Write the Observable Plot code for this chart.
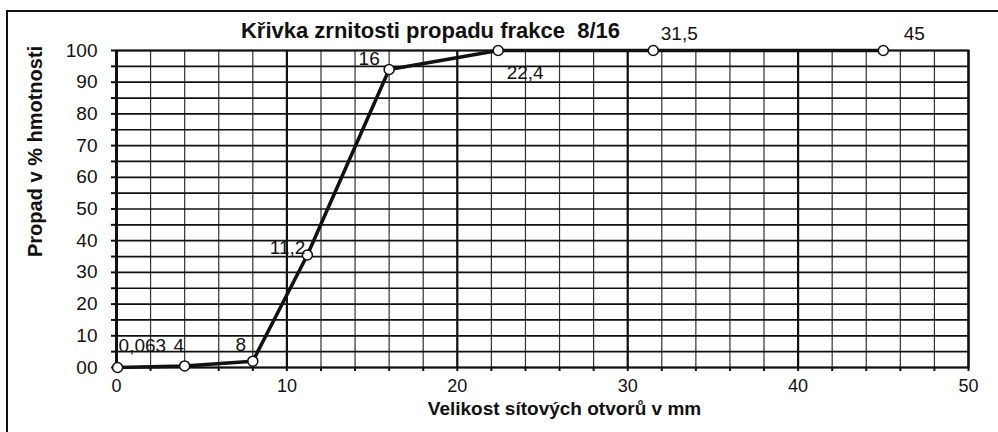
<!DOCTYPE html>
<html>
<head>
<meta charset="utf-8">
<script src="https://cdn.jsdelivr.net/npm/d3@7"></script>
<script src="https://cdn.jsdelivr.net/npm/@observablehq/plot@0.6"></script>
<style>
  html, body { margin: 0; padding: 0; background: #fff; }
  #wrap { position: relative; width: 998px; height: 432px; overflow: hidden; }
  #border { position: absolute; left: 6px; top: 10px; right: -10px; bottom: -10px;
            border-left: 2px solid #111; border-top: 2px solid #111; pointer-events: none; }
</style>
</head>
<body>
<div id="wrap"><div id="border"></div></div>
<script>
// ---- data ----
const sieveSizes = [0.063, 4, 8, 11.2, 16, 22.4, 31.5, 45];
const passing    = [0, 0.5, 2, 35.5, 94, 100, 100, 100];
const pointLabels = ["0,063", "4", "8", "11,2", "16", "22,4", "31,5", "45"];
const xTicks = [0, 10, 20, 30, 40, 50];
const xTickLabels = ["0", "10", "20", "30", "40", "50"];
const yTicks = [0, 10, 20, 30, 40, 50, 60, 70, 80, 90, 100];
const yTickLabels = ["00", "10", "20", "30", "40", "50", "60", "70", "80", "90", "100"];
const titleText = "Křivka zrnitosti propadu frakce  8/16";
const xTitle = "Velikost sítových otvorů v mm";
const yTitle = "Propad v % hmotnosti";

// ---- layout (styles only) ----
const labelOffsets = {
  "0,063": {dx: 1, dy: -22, anchor: "start"},
  "4": {dx: -6, dy: -20, anchor: "middle"},
  "8": {dx: -12, dy: -16, anchor: "middle"},
  "11,2": {dx: -2, dy: -7, anchor: "end"},
  "16": {dx: -20, dy: -11, anchor: "middle"},
  "22,4": {dx: 27, dy: 22, anchor: "middle"},
  "31,5": {dx: 26, dy: -17, anchor: "middle"},
  "45": {dx: 31, dy: -17, anchor: "middle"}
};

const data = sieveSizes.map((x, i) => ({x, y: passing[i], label: pointLabels[i]}));

const labelMarks = data.map(d => {
  const o = labelOffsets[d.label];
  return Plot.text([d], {x: "x", y: "y", text: "label", dx: o.dx, dy: o.dy,
    textAnchor: o.anchor, fontSize: 19, fill: "#111"});
});

const chart = Plot.plot({
  width: 998,
  height: 432,
  marginLeft: 116,
  marginRight: 30,
  marginTop: 50,
  marginBottom: 65,
  x: {domain: [0, 50]},
  y: {domain: [0, 100]},
  style: {fontFamily: "'Liberation Sans', Arial, sans-serif", fontSize: "19px", background: "white", color: "#111"},
  marks: [
    Plot.gridX(d3.range(0, 51, 2), {stroke: "#333", strokeOpacity: 1, strokeWidth: 1.2}),
    Plot.gridX(xTicks, {stroke: "#111", strokeOpacity: 1, strokeWidth: 2.2}),
    Plot.gridY(d3.range(0, 101, 5), {stroke: "#111", strokeOpacity: 1, strokeWidth: 1.7}),
    Plot.frame({stroke: "#111", strokeWidth: 2}),
    Plot.ruleX([0], {stroke: "#111", strokeWidth: 3}),
    Plot.axisX(d3.range(0, 51, 2), {tickSize: 4, tickFormat: () => "", strokeWidth: 2, label: null}),
    Plot.axisX(xTicks, {tickSize: 0, tickPadding: 12, tickFormat: (d, i) => xTickLabels[i], fontSize: 18, label: null}),
    Plot.axisY(d3.range(0, 101, 5), {tickSize: 5, tickFormat: () => "", strokeWidth: 2, label: null}),
    Plot.axisY(yTicks, {tickSize: 0, tickPadding: 19, tickFormat: (d, i) => yTickLabels[i], fontSize: 19, label: null}),
    Plot.line(data, {x: "x", y: "y", stroke: "#111", strokeWidth: 3.5}),
    Plot.dot(data, {x: "x", y: "y", r: 5, fill: "white", stroke: "#111", strokeWidth: 1.5}),
    ...labelMarks,
    Plot.text([titleText], {frameAnchor: "top", dx: -112, dy: -28, fontSize: 22, fontWeight: "bold", fill: "#111"}),
    Plot.text([xTitle], {frameAnchor: "bottom", dx: 22, dy: 47, fontSize: 19, fontWeight: "bold", fill: "#111"}),
    Plot.text([yTitle], {frameAnchor: "left", dx: -81, dy: 48, rotate: -90, fontSize: 20, fontWeight: "bold", fill: "#111"})
  ]
});

document.getElementById("wrap").appendChild(chart);
</script>
</body>
</html>
